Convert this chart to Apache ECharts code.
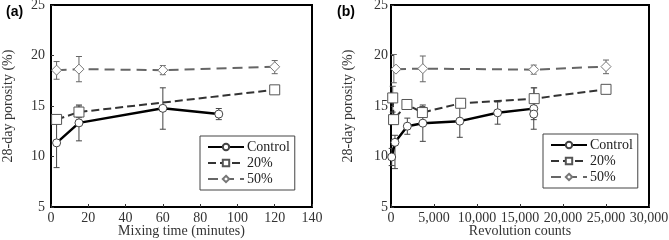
<!DOCTYPE html>
<html>
<head>
<meta charset="utf-8">
<script src="https://cdn.jsdelivr.net/npm/echarts@6/dist/echarts.min.js"></script>
<style>
  html, body { margin: 0; padding: 0; background: #fff; }
  #main { width: 669px; height: 240px; }
</style>
</head>
<body>
<div id="main"></div>
<script>
// panel (a): x = mixing time (minutes), y = 28-day porosity (%)
var ctrlA = [[3, 11.35], [15, 13.33], [60, 14.77], [90, 14.2]];
var ctrlAErr = [[3, 8.9, 13.8], [15, 11.55, 15.1], [60, 12.7, 16.8], [90, 13.65, 14.75]];
var p20A = [[3, 13.67], [15, 14.4], [120, 16.6]];
var p20AErr = [[3, 13.3, 14.05], [15, 13.85, 15.0], [120, 16.4, 16.8]];
var p50A = [[3, 18.55], [15, 18.65], [60, 18.55], [120, 18.88]];
var p50AErr = [[3, 17.65, 19.4], [15, 17.4, 19.9], [60, 18.1, 19.0], [120, 18.2, 19.5]];

// panel (b): x = revolution counts
var ctrlB = [[80, 9.95], [460, 11.4], [1900, 13.0], [3700, 13.3], [8000, 13.5], [12400, 14.33], [16600, 14.74], [16600, 14.2]];
var ctrlBErr = [[80, 9.1, 10.8], [460, 8.8, 12.1], [1900, 12.2, 13.8], [3700, 11.5, 15.1], [8000, 11.9, 15.6], [12400, 13.2, 15.4], [16600, 12.7, 16.8], [16600, 13.65, 14.75]];
var p20B = [[200, 15.8], [300, 13.65], [1850, 15.15], [3650, 14.35], [8100, 15.27], [16650, 15.73], [25000, 16.65]];
var p20BErr = [[200, 14.4, 16.95], [300, 13.3, 14.0], [1850, 14.95, 15.35], [3650, 13.9, 14.95], [8100, 15.0, 15.5], [16650, 14.7, 16.8], [25000, 16.45, 16.85]];
var p50B = [[580, 18.65], [3700, 18.7], [16600, 18.6], [25000, 18.9]];
var p50BErr = [[330, 17.3, 20.1], [3700, 17.4, 19.95], [16600, 18.15, 19.05], [25000, 18.2, 19.55]];

var serif = "'Liberation Serif', 'DejaVu Serif', serif";

function errRender(color) {
  return function (params, api) {
    var x = api.value(0);
    var lo = api.coord([x, api.value(1)]);
    var hi = api.coord([x, api.value(2)]);
    var c = 3;
    var st = { stroke: color, lineWidth: 1 };
    return {
      type: 'group',
      children: [
        { type: 'line', shape: { x1: lo[0], y1: lo[1], x2: hi[0], y2: hi[1] }, style: st },
        { type: 'line', shape: { x1: lo[0] - c, y1: lo[1], x2: lo[0] + c, y2: lo[1] }, style: st },
        { type: 'line', shape: { x1: hi[0] - c, y1: hi[1], x2: hi[0] + c, y2: hi[1] }, style: st }
      ]
    };
  };
}

function errSeries(data, idx, color) {
  return {
    type: 'custom',
    xAxisIndex: idx, yAxisIndex: idx,
    renderItem: errRender(color),
    data: data, z: 1, silent: true
  };
}

var styles = {
  'Control': { color: '#000', type: 'solid', width: 2.5, symbol: 'circle', size: 8, mk: '#444' },
  '20%': { color: '#333', type: [8, 4], width: 2, symbol: 'rect', size: 10, mk: '#555' },
  '50%': { color: '#666', type: [10, 6], width: 2, symbol: 'diamond', size: 10, mk: '#777' }
};

function lineSeries(name, data, idx) {
  var s = styles[name];
  return {
    name: name, type: 'line',
    xAxisIndex: idx, yAxisIndex: idx,
    data: data, z: 3,
    symbol: s.symbol, symbolSize: s.size,
    lineStyle: { color: s.color, type: s.type, width: s.width },
    itemStyle: { color: '#fff', borderColor: s.mk, borderWidth: 1 },
    animation: false
  };
}

var tick = { show: true, inside: true, length: 3, lineStyle: { color: '#333', width: 1 } };

function xAxis(idx, max, name, fmt) {
  return {
    type: 'value', gridIndex: idx, min: 0, max: max, interval: max / (idx ? 6 : 7),
    name: name, nameLocation: 'middle', nameGap: 17, nameMoveOverlap: false,
    nameTextStyle: { fontFamily: serif, fontSize: 14, color: '#333' },
    axisLine: { show: true, lineStyle: { color: '#000', width: 2 } },
    axisTick: tick,
    splitLine: { show: false },
    axisLabel: { fontFamily: serif, fontSize: 14, color: '#333', margin: 4, formatter: fmt }
  };
}

function yAxis(idx) {
  return {
    type: 'value', gridIndex: idx, min: 5, max: 25, interval: 5,
    name: '28-day porosity (%)', nameLocation: 'middle', nameGap: 36, nameMoveOverlap: false,
    nameTextStyle: { fontFamily: serif, fontSize: 14, color: '#333' },
    axisLine: { show: true, lineStyle: { color: '#000', width: 2 } },
    axisTick: tick,
    splitLine: { show: false },
    axisLabel: { fontFamily: serif, fontSize: 14, color: '#333', margin: idx ? 3 : 6 }
  };
}

function legend(left, top) {
  return {
    left: left, top: top, orient: 'vertical',
    data: ['Control', '20%', '50%'],
    itemWidth: 36, itemHeight: 8, itemGap: 2,
    padding: [4, 5, 4, 7],
    borderColor: '#444', borderWidth: 1,
    textStyle: { fontFamily: serif, fontSize: 14, color: '#222', padding: [0, 0, 0, -2] },
    selectedMode: false
  };
}

var chart = echarts.init(document.getElementById('main'), null, { renderer: 'canvas' });
chart.setOption({
  animation: false,
  title: [
    { text: '(a)', left: 1, top: 0, textStyle: { fontFamily: "'Liberation Sans', Arial", fontWeight: 'bold', fontSize: 14, color: '#000' } },
    { text: '(b)', left: 332, top: 0, textStyle: { fontFamily: "'Liberation Sans', Arial", fontWeight: 'bold', fontSize: 14, color: '#000' } }
  ],
  grid: [
    { left: 51, right: 357, top: 5, bottom: 33, show: true, borderColor: '#000', borderWidth: 2, outerBoundsMode: 'none' },
    { left: 391, right: 20, top: 5, bottom: 33, show: true, borderColor: '#000', borderWidth: 2, outerBoundsMode: 'none' }
  ],
  legend: [legend(200, 136), legend(543, 134)],
  xAxis: [
    xAxis(0, 140, 'Mixing time (minutes)'),
    xAxis(1, 30000, 'Revolution counts', function (v) { return v.toLocaleString('en-US'); })
  ],
  yAxis: [yAxis(0), yAxis(1)],
  series: [
    errSeries(ctrlAErr, 0, '#444'),
    errSeries(p20AErr, 0, '#555'),
    errSeries(p50AErr, 0, '#666'),
    lineSeries('50%', p50A, 0),
    lineSeries('20%', p20A, 0),
    lineSeries('Control', ctrlA, 0),
    errSeries(ctrlBErr, 1, '#444'),
    errSeries(p20BErr, 1, '#555'),
    errSeries(p50BErr, 1, '#666'),
    lineSeries('50%', p50B, 1),
    lineSeries('20%', p20B, 1),
    lineSeries('Control', ctrlB, 1)
  ]
});
</script>
</body>
</html>
